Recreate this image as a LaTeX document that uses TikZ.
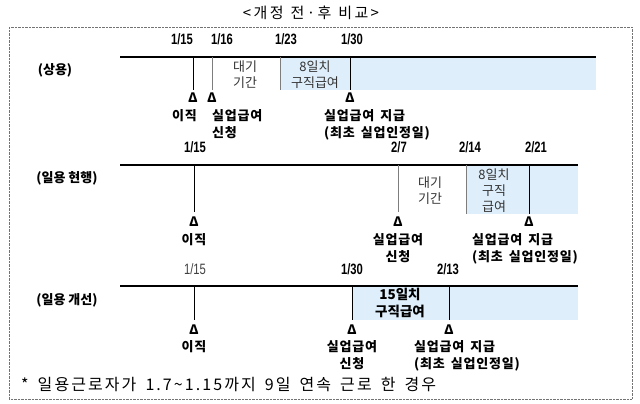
\documentclass[tikz,border=0pt]{standalone}
\usepackage{fontspec}
\setmainfont{Noto Sans CJK KR}
\newfontfamily\evfont{Noto Sans CJK KR}[WordSpace=1.6, LetterSpace=6]
\newfontfamily\footfont{Noto Sans CJK KR}[WordSpace=1.6, LetterSpace=13]
\newfontfamily\titlefont{Noto Sans CJK KR}[LetterSpace=16, WordSpace=1.2]
\newfontfamily\datefont[FakeStretch=0.75]{Liberation Sans}
\definecolor{benefit}{RGB}{222,239,251}
\definecolor{tickgray}{RGB}{125,125,125}
\newcommand*{\lft }{120}
\newcommand*{\rgtA}{596}
\newcommand*{\rgt }{578}
\newcommand*{\ya  }{57}
\newcommand*{\yb  }{165}
\newcommand*{\yc  }{286}

\begin{document}
\begin{tikzpicture}[x=1pt, y=-1pt, inner sep=0pt,
        axis/.style={line width=1.6pt},
        tick/.style={line width=0.8pt},
        date/.style={font=\datefont\bfseries\fontsize{15}{15}\selectfont},
        rowlabel/.style={font=\bfseries\fontsize{13}{13}\selectfont},
        tri/.style={font=\bfseries\fontsize{13}{13}\selectfont},
        event/.style={font=\evfont\bfseries\fontsize{13}{17}\selectfont, align=center, anchor=north},
        note/.style={font=\fontsize{13}{16}\selectfont, align=center, text=black!80}]
    \useasboundingbox (0,0) rectangle (640,404);
    \node [font=\titlefont\fontsize{15}{15}\selectfont] (title) at (311,13) {<개정 전·후 비교>};
    \draw [densely dotted, black!55] (9,27) rectangle (632,399);
    % 상용
    \fill [benefit] (280,\ya) rectangle (\rgtA,90);
    \coordinate (sA) at (\lft,\ya);  \coordinate (eA) at (\rgtA,\ya);
    \draw [axis] (sA) -- (eA);
    \node [rowlabel] (rowA) at (55,70) {(상용)};
    \coordinate (tA1) at (193,\ya);  \coordinate (bA1) at (193,90);
    \coordinate (tA2) at (212,\ya);  \coordinate (bA2) at (212,90);
    \coordinate (tA3) at (280,\ya);  \coordinate (bA3) at (280,90);
    \coordinate (tA4) at (350,\ya);  \coordinate (bA4) at (350,90);
    \draw [tick] (tA1) -- (bA1);
    \draw [tick, tickgray] (tA2) -- (bA2);
    \draw [tick, tickgray] (tA3) -- (bA3);
    \draw [tick] (tA4) -- (bA4);
    \node [date] (dA1) at (182,39) {1/15};
    \node [date] (dA2) at (222,39) {1/16};
    \node [date] (dA3) at (286,39) {1/23};
    \node [date] (dA4) at (352,39) {1/30};
    \node [note] (waitA) at (245,75) {대기\\기간};
    \node [note] (payDaysA) at (315,75) {8일치\\구직급여};
    \node [tri] (triA1) at (193,98) {Δ};
    \node [tri] (triA2) at (212,98) {Δ};
    \node [tri] (triA4) at (350,98) {Δ};
    \node [event, anchor=north east] (quitA) at (197,109) {이직};
    \node [event, anchor=north west, align=left] (applyA) at (212,109) {실업급여\\신청};
    \node [event, anchor=north west, align=left] (payA) at (324,109) {실업급여 지급\\(최초 실업인정일)};
    % 일용 현행
    \fill [benefit] (466,\yb) rectangle (\rgt,214);
    \coordinate (sB) at (\lft,\yb);  \coordinate (eB) at (\rgt,\yb);
    \draw [axis] (sB) -- (eB);
    \node [rowlabel] (rowB) at (67,178) {(일용 현행)};
    \coordinate (tB1) at (194,\yb);  \coordinate (bB1) at (194,212);
    \coordinate (tB2) at (398,\yb);  \coordinate (bB2) at (398,212);
    \coordinate (tB3) at (466,\yb);  \coordinate (bB3) at (466,214);
    \coordinate (tB4) at (529,\yb);  \coordinate (bB4) at (529,214);
    \draw [tick] (tB1) -- (bB1);
    \draw [tick, tickgray] (tB2) -- (bB2);
    \draw [tick, tickgray] (tB3) -- (bB3);
    \draw [tick] (tB4) -- (bB4);
    \node [date] (dB1) at (195,147) {1/15};
    \node [date] (dB2) at (399,147) {2/7};
    \node [date] (dB3) at (470,147) {2/14};
    \node [date] (dB4) at (536,147) {2/21};
    \node [note] (waitB) at (430,191) {대기\\기간};
    \node [note] (payDaysB) at (494,191) {8일치\\구직\\급여};
    \node [tri] (triB1) at (194,222) {Δ};
    \node [tri] (triB2) at (398,222) {Δ};
    \node [tri] (triB4) at (529,222) {Δ};
    \node [event] (quitB) at (194,233) {이직};
    \node [event] (applyB) at (398,233) {실업급여\\신청};
    \node [event, anchor=north west, align=left] (payB) at (472,233) {실업급여 지급\\(최초 실업인정일)};
    % 일용 개선
    \fill [benefit] (352,\yc) rectangle (\rgt,320);
    \coordinate (sC) at (\lft,\yc);  \coordinate (eC) at (\rgt,\yc);
    \draw [axis] (sC) -- (eC);
    \node [rowlabel] (rowC) at (67,300) {(일용 개선)};
    \coordinate (tC1) at (194,\yc);  \coordinate (bC1) at (194,320);
    \coordinate (tC2) at (352,\yc);  \coordinate (bC2) at (352,320);
    \coordinate (tC3) at (449,\yc);  \coordinate (bC3) at (449,320);
    \draw [tick] (tC1) -- (bC1);
    \draw [tick] (tC2) -- (bC2);
    \draw [tick] (tC3) -- (bC3);
    \node [date, font=\datefont\fontsize{15}{15}\selectfont, text=black!75] (dC1) at (195,269) {1/15};
    \node [date] (dC2) at (352,269) {1/30};
    \node [date] (dC3) at (448,269) {2/13};
    \node [note, font=\bfseries\fontsize{13.5}{17}\selectfont, text=black] (payDaysC) at (400,303) {15일치\\구직급여};
    \node [tri] (triC1) at (194,330) {Δ};
    \node [tri] (triC2) at (352,330) {Δ};
    \node [tri] (triC3) at (449,330) {Δ};
    \node [event] (quitC) at (194,340) {이직};
    \node [event] (applyC) at (352,340) {실업급여\\신청};
    \node [event, anchor=north west, align=left] (payC) at (414,340) {실업급여 지급\\(최초 실업인정일)};
    % 각주
    \node [anchor=west, font=\footfont\fontsize{16}{16}\selectfont] (foot) at (21,385) {* 일용근로자가 1.7\textasciitilde 1.15까지 9일 연속 근로 한 경우};
\end{tikzpicture}
\end{document}
